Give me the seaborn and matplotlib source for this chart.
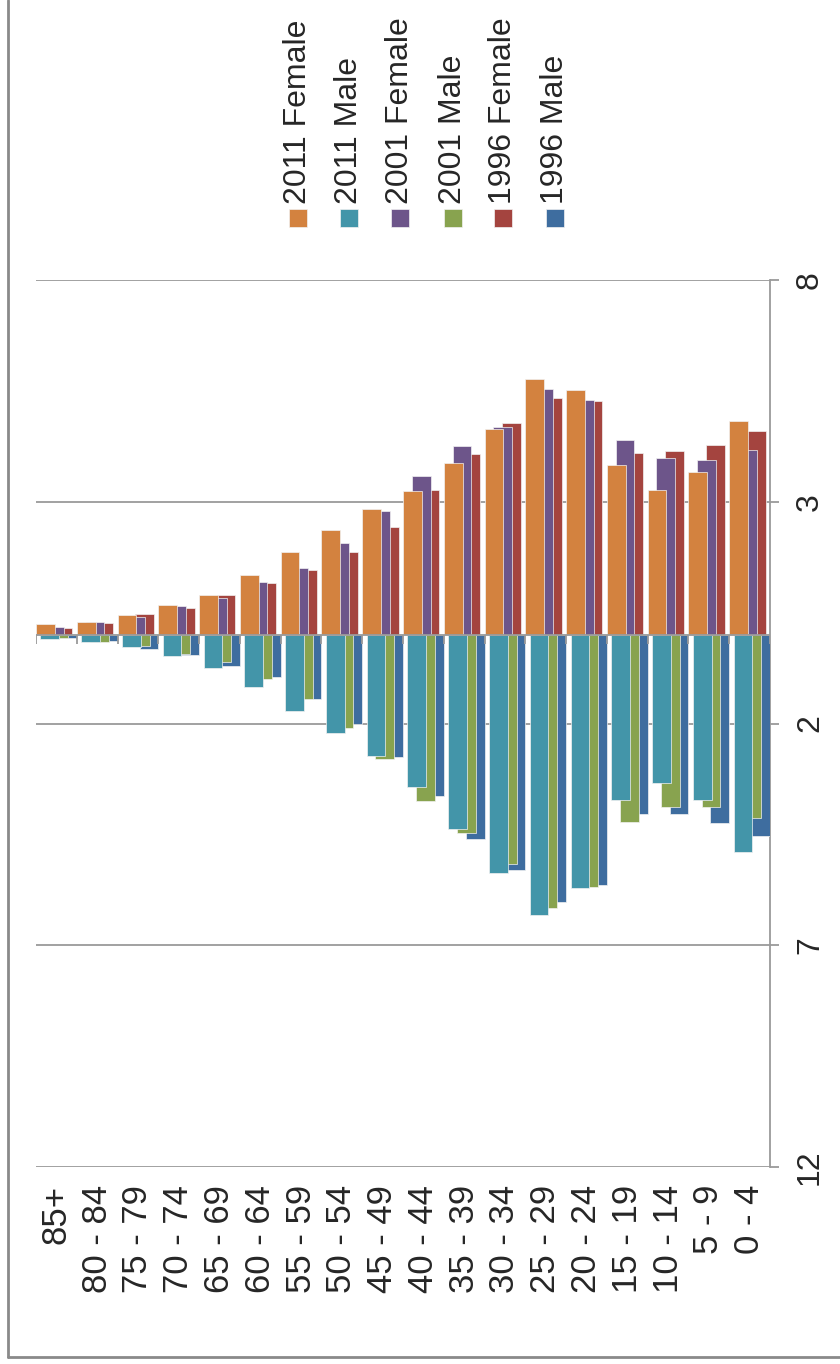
"""
Population pyramid by age group, 1996 / 2001 / 2011 (chart drawn rotated).
"""

import matplotlib
matplotlib.use("Agg")
import matplotlib.pyplot as plt
from matplotlib.patches import Rectangle
from matplotlib.lines import Line2D
import pandas as pd
import seaborn as sns


ages = ["85+", "80 - 84", "75 - 79", "70 - 74", "65 - 69", "60 - 64",
        "55 - 59", "50 - 54", "45 - 49", "40 - 44", "35 - 39", "30 - 34",
        "25 - 29", "20 - 24", "15 - 19", "10 - 14", "5 - 9", "0 - 4"]

female_2011 = [0.24, 0.29, 0.44, 0.67, 0.90, 1.34, 1.86, 2.37, 2.83, 3.24,
               3.87, 4.63, 5.76, 5.52, 3.82, 3.27, 3.67, 4.83]
male_2011 = [0.10, 0.17, 0.28, 0.48, 0.74, 1.17, 1.71, 2.21, 2.74, 3.43,
             4.38, 5.37, 6.31, 5.70, 3.72, 3.34, 3.72, 4.89]
female_2001 = [0.17, 0.29, 0.41, 0.64, 0.84, 1.19, 1.50, 2.08, 2.80, 3.59,
               4.25, 4.68, 5.55, 5.30, 4.40, 3.99, 3.94, 4.17]
male_2001 = [0.07, 0.17, 0.25, 0.43, 0.62, 0.99, 1.44, 2.10, 2.79, 3.74,
             4.46, 5.16, 6.17, 5.68, 4.21, 3.89, 3.89, 4.13]
female_1996 = [0.16, 0.26, 0.47, 0.61, 0.90, 1.16, 1.45, 1.86, 2.43, 3.27,
               4.07, 4.78, 5.35, 5.27, 4.11, 4.15, 4.28, 4.60]
male_1996 = [0.07, 0.14, 0.31, 0.45, 0.71, 0.95, 1.44, 2.00, 2.76, 3.63,
             4.61, 5.30, 6.03, 5.65, 4.04, 4.04, 4.24, 4.53]

series_names = ["2011 Female", "2011 Male", "2001 Female",
                "2001 Male", "1996 Female", "1996 Male"]
series_values = [female_2011, male_2011, female_2001,
                 male_2001, female_1996, male_1996]
series_colors = ["#D3823F", "#4395A9", "#6D558A",
                 "#88A34F", "#A4443F", "#3E6D9F"]

y_ticks = [-12, -7, -2, 3, 8]
y_tick_labels = ["12", "7", "2", "3", "8"]

FONT = "Liberation Sans"
FS = 23
FS_CAT = 25
GREY = "#9A9A9A"
W, H = 840, 1364
BAR_W = 0.46
STEP = 0.108


def build_frame():
    rows = []
    for s, (name, vals) in enumerate(zip(series_names, series_values)):
        sign = -1 if name.endswith(" Male") else 1
        for i, (age, v) in enumerate(zip(ages, vals)):
            rows.append({
                "age": age,
                "series": name,
                "pos": i - 0.5 + s * STEP + BAR_W / 2,
                "value": sign * v,
            })
    return pd.DataFrame(rows)


def px(x, y):
    return x / W, 1 - y / H


df = build_frame()

sns.set_style("white")
plt.rcParams["font.family"] = [FONT, "DejaVu Sans"]

fig = plt.figure(figsize=(W / 100, H / 100), dpi=100)
ax = fig.add_axes([36 / W, 1 - 1167 / H, (770 - 36) / W, (1167 - 280) / H])

for s, name in enumerate(series_names):
    sns.barplot(
        data=df[df["series"] == name],
        x="pos",
        y="value",
        native_scale=True,
        width=BAR_W,
        color=series_colors[s],
        saturation=1,
        errorbar=None,
        edgecolor="#F2F2F2",
        linewidth=0.5,
        zorder=3 + (5 - s) * 0.1,
        ax=ax,
    )

ax.set_xlim(-0.5, len(ages) - 0.5)
ax.set_ylim(-12, 8)

# grid and axes
for t in y_ticks:
    ax.axhline(t, color=GREY, linewidth=1.3, zorder=1)
ax.axhline(0, color=GREY, linewidth=1.3, zorder=5)
ax.vlines([i - 0.5 for i in range(len(ages) + 1)], -0.2, 0,
          color=GREY, linewidth=1.3, zorder=5)

for side in ["left", "top", "bottom"]:
    ax.spines[side].set_visible(False)
ax.spines["right"].set_color(GREY)
ax.spines["right"].set_linewidth(1.3)

ax.yaxis.tick_right()
ax.set_yticks(y_ticks)
ax.set_yticklabels(y_tick_labels, rotation=90, fontsize=FS, va="center")
ax.tick_params(axis="y", length=6.5, width=1.3, color=GREY, pad=11.5)

ax.set_xticks(range(len(ages)))
ax.set_xticklabels(ages, rotation=90, fontsize=FS_CAT)
ax.tick_params(axis="x", length=0, pad=13)
ax.set_xlabel("")
ax.set_ylabel("")

# legend (rotated entries)
legend_x = [298, 349, 400, 453, 503, 555]
for s, name in enumerate(series_names):
    x0, y0 = px(legend_x[s] - 9, 227)
    fig.add_artist(Rectangle((x0, y0), 18 / W, 18 / H,
                             facecolor=series_colors[s], edgecolor="#F2F2F2",
                             linewidth=0.5, transform=fig.transFigure))
    tx, ty = px(legend_x[s], 204)
    fig.text(tx, ty, name, rotation=90, ha="center", va="bottom",
             fontsize=FS)

# chart border (left and bottom edges are visible)
fig.add_artist(Line2D([8 / W, 8 / W], [px(0, 1357)[1], 1], color="#8A8A8A",
                      linewidth=2, transform=fig.transFigure))
fig.add_artist(Line2D([8 / W, 1], [px(0, 1357)[1]] * 2, color="#8A8A8A",
                      linewidth=2, transform=fig.transFigure))

fig.savefig("out.png", dpi=100)
